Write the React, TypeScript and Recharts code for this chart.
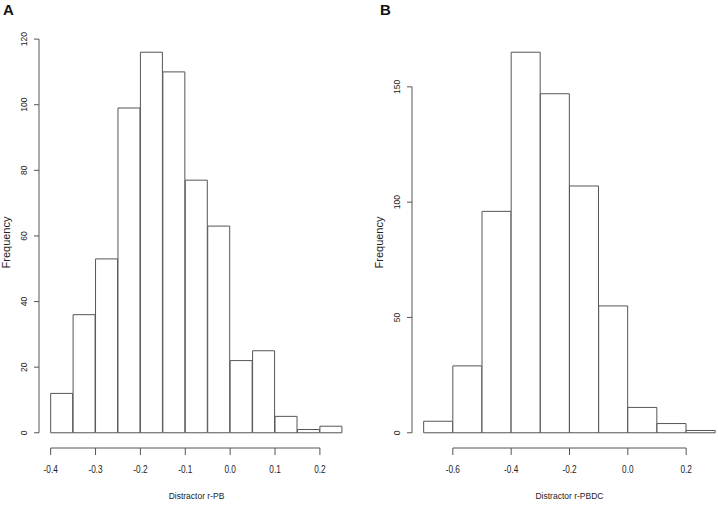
import { ComposedChart, Bar, XAxis, YAxis, ReferenceLine, Label } from 'recharts';

// histogram A: distractor r-PB
const pbBreaks = [-0.4, -0.35, -0.3, -0.25, -0.2, -0.15, -0.1, -0.05, 0, 0.05, 0.1, 0.15, 0.2, 0.25];
const pbCounts = [12, 36, 53, 99, 116, 110, 77, 63, 22, 25, 5, 1, 2];
const pbXTicks = [-0.4, -0.3, -0.2, -0.1, 0, 0.1, 0.2];
const pbYTicks = [0, 20, 40, 60, 80, 100, 120];

// histogram B: distractor r-PBDC
const pbdcBreaks = [-0.7, -0.6, -0.5, -0.4, -0.3, -0.2, -0.1, 0, 0.1, 0.2, 0.3];
const pbdcCounts = [5, 29, 96, 165, 147, 107, 55, 11, 4, 1];
const pbdcXTicks = [-0.6, -0.4, -0.2, 0, 0.2];
const pbdcYTicks = [0, 50, 100, 150];

const FONT = '"Liberation Sans", Arial, sans-serif';
const INK = '#555';
const TEXT = '#222';

// reference glyphs look squeezed horizontally
const XTick = (props: any) => {
    const { x, y, payload } = props;
    return (
        <text transform={`translate(${x}, ${y}) scale(0.75, 1)`} dy="0.71em" textAnchor="middle" fontSize={11} fill={TEXT} fontFamily={FONT}>
            {Number(payload.value).toFixed(1)}
        </text>
    );
};

const YTick = (props: any) => {
    const { x, y, payload } = props;
    return (
        <text x={x} y={y} transform={`rotate(-90, ${x}, ${y})`} textAnchor="middle" fontSize={8.5} fill={TEXT} fontFamily={FONT}>
            {payload.value}
        </text>
    );
};

const FreqLabel = (props: any) => {
    const vb = props.viewBox || {};
    const x = vb.x + 10;
    const y = vb.y + vb.height / 2;
    return (
        <text x={x} y={y} transform={`rotate(-90, ${x}, ${y})`} textAnchor="middle" fontSize={11} fill={TEXT} fontFamily={FONT}>
            Frequency
        </text>
    );
};

const TitleLabel = (props: any) => {
    const vb = props.viewBox || {};
    return (
        <text x={vb.x + vb.width / 2} y={vb.y + vb.height - 11} textAnchor="middle" fontSize={8.5} fill={TEXT} fontFamily={FONT}>
            {props.value}
        </text>
    );
};

interface IHistProps {
    breaks: number[];
    counts: number[];
    xTicks: number[];
    yTicks: number[];
    title: string;
}

const Histogram = (props: IHistProps) => {
    const { breaks, counts, xTicks, yTicks, title } = props;
    const data = counts.map((c, i) => ({ mid: (breaks[i] + breaks[i + 1]) / 2, count: c }));

    // R style: 4% extension of both ranges
    const x0 = breaks[0];
    const x1 = breaks[breaks.length - 1];
    const xPad = (x1 - x0) * 0.04;
    const yMax = Math.max(...counts);
    const yPad = yMax * 0.04;
    const yBottom = -yPad;

    return (
        <ComposedChart width={360} height={510} data={data} barCategoryGap={0} margin={{ top: 37, right: 6, bottom: 0, left: 0 }}>
            <XAxis
                dataKey="mid"
                type="number"
                domain={[x0 - xPad, x1 + xPad]}
                allowDataOverflow
                ticks={xTicks}
                interval={0}
                axisLine={false}
                tickLine={{ stroke: INK }}
                tickSize={7}
                tickMargin={10}
                tick={<XTick />}
                height={62}
            >
                <Label value={title} content={<TitleLabel />} />
            </XAxis>
            <YAxis
                type="number"
                domain={[yBottom, yMax + yPad]}
                allowDataOverflow
                ticks={yTicks}
                interval={0}
                axisLine={false}
                tickLine={{ stroke: INK }}
                tickSize={5}
                tickMargin={7}
                tick={<YTick />}
                width={39}
            >
                <Label content={<FreqLabel />} />
            </YAxis>
            <Bar dataKey="count" fill="#fff" stroke={INK} strokeWidth={1} isAnimationActive={false} />
            <ReferenceLine
                segment={[{ x: xTicks[0], y: yBottom }, { x: xTicks[xTicks.length - 1], y: yBottom }]}
                stroke={INK}
                ifOverflow="visible"
            />
            <ReferenceLine
                segment={[{ x: x0 - xPad, y: yTicks[0] }, { x: x0 - xPad, y: yTicks[yTicks.length - 1] }]}
                stroke={INK}
                ifOverflow="visible"
            />
        </ComposedChart>
    );
};

const tagStyle = {
    position: 'absolute' as const,
    top: 1,
    fontFamily: 'Arial, "Liberation Sans", sans-serif',
    fontWeight: 'bold' as const,
    fontSize: 15,
    color: '#111',
};

const App = () => {
    return (
        <div style={{ position: 'absolute', left: 0, top: 0, width: 718, height: 510, overflow: 'hidden', background: '#fff' }}>
            <div style={{ position: 'absolute', left: 0, top: 0 }}>
                <Histogram breaks={pbBreaks} counts={pbCounts} xTicks={pbXTicks} yTicks={pbYTicks} title="Distractor r-PB" />
            </div>
            <div style={{ position: 'absolute', left: 373, top: 0 }}>
                <Histogram breaks={pbdcBreaks} counts={pbdcCounts} xTicks={pbdcXTicks} yTicks={pbdcYTicks} title="Distractor r-PBDC" />
            </div>
            <div style={{ ...tagStyle, left: 3 }}>A</div>
            <div style={{ ...tagStyle, left: 380 }}>B</div>
        </div>
    );
};

export default App;
